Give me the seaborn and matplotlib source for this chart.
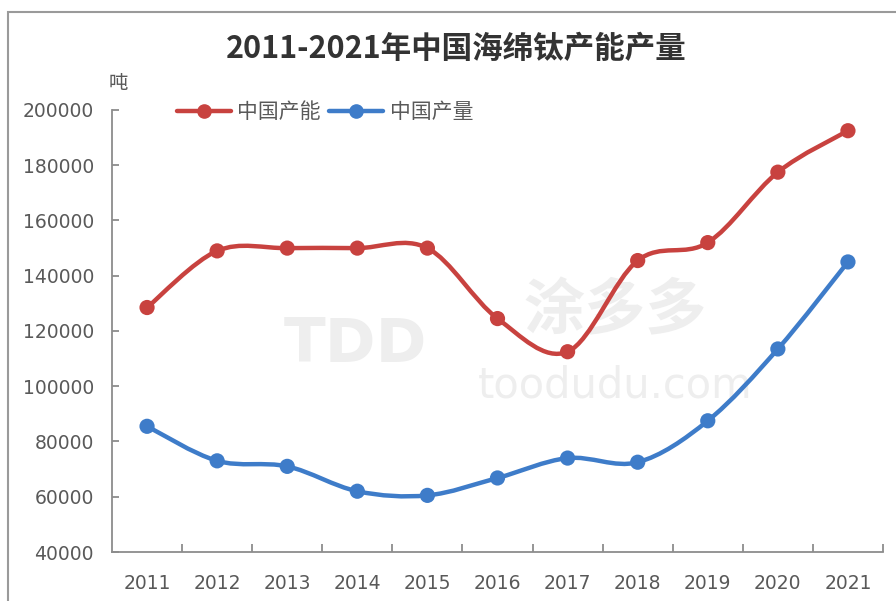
import numpy as np
import pandas as pd
import matplotlib
matplotlib.use("Agg")
import matplotlib.pyplot as plt
from matplotlib.path import Path
from matplotlib.patches import PathPatch, Rectangle
from matplotlib.lines import Line2D
import seaborn as sns

years = ["2011", "2012", "2013", "2014", "2015", "2016", "2017", "2018", "2019", "2020", "2021"]
capacity = [128500, 149000, 150000, 150000, 150000, 124500, 112500, 145500, 152000, 177500, 192500]
output = [85500, 73000, 71000, 62000, 60500, 66800, 74000, 72500, 87500, 113500, 145000]
y_ticks = [40000, 60000, 80000, 100000, 120000, 140000, 160000, 180000, 200000]

title = "2011-2021年中国海绵钛产能产量"
unit = "吨"
name_cap = "中国产能"
name_out = "中国产量"

red = "#C8423F"
blue = "#3E7CC9"
grey_txt = "#595959"

df = pd.DataFrame({"year": years, "idx": range(len(years)),
                   name_cap: capacity, name_out: output})
long = df.melt(id_vars=["year", "idx"], var_name="series", value_name="value")

sns.set_theme(style="white")
plt.rcParams["font.family"] = ["Noto Sans CJK SC", "DejaVu Sans"]

fig = plt.figure(figsize=(8.96, 6.01), dpi=100)
ax = fig.add_axes([112 / 896, 1 - 552 / 601, (883 - 112) / 896, (552 - 110) / 601])


def smooth_line(ax, xs, ys, color):
    # excel style smoothed line: cubic bezier through every point
    pts = np.column_stack([xs, ys]).astype(float)
    n = len(pts)
    verts = [pts[0]]
    codes = [Path.MOVETO]
    for i in range(n - 1):
        p0 = pts[max(i - 1, 0)]
        p1 = pts[i]
        p2 = pts[i + 1]
        p3 = pts[min(i + 2, n - 1)]
        verts += [p1 + (p2 - p0) / 6, p2 - (p3 - p1) / 6, p2]
        codes += [Path.CURVE4] * 3
    patch = PathPatch(Path(verts, codes), facecolor="none", edgecolor=color,
                      lw=3.2, capstyle="round", joinstyle="round", zorder=3)
    ax.add_patch(patch)


smooth_line(ax, df["idx"], df[name_cap], red)
smooth_line(ax, df["idx"], df[name_out], blue)

sns.scatterplot(data=long, x="idx", y="value", hue="series",
                palette={name_cap: red, name_out: blue},
                s=120, edgecolor="none", legend=False, zorder=4, ax=ax)

ax.set_xlim(-0.5, len(years) - 0.5)
ax.set_ylim(40000, 200000)
ax.set_yticks(y_ticks)
ax.set_yticklabels([str(v) for v in y_ticks])
ax.set_xticks(range(len(years)))
ax.set_xticklabels(years)
ax.set_xticks(np.arange(0.5, len(years)), minor=True)
ax.set_xlabel("")
ax.set_ylabel("")

for s in ["top", "right"]:
    ax.spines[s].set_visible(False)
for s in ["left", "bottom"]:
    ax.spines[s].set_color("#8C8C8C")
    ax.spines[s].set_linewidth(1.3)

ax.tick_params(axis="x", which="major", length=0, pad=16,
               labelsize=13.5, labelcolor=grey_txt)
ax.tick_params(axis="x", which="minor", direction="in", length=6,
               width=1.3, color="#8C8C8C", bottom=True)
ax.tick_params(axis="y", direction="in", length=5, width=1.3, color="#8C8C8C",
               left=True, pad=13, labelsize=13.5, labelcolor=grey_txt)
for lab in ax.get_xticklabels() + ax.get_yticklabels():
    lab.set_family("DejaVu Sans")

# faint watermark
wm = "#EEEEEE"
fig.text(355 / 896, 1 - 345 / 601, "TDD", fontsize=44, fontweight="bold",
         color=wm, ha="center", va="center", family="DejaVu Sans", zorder=0)
fig.text(615 / 896, 1 - 312 / 601, "涂多多", fontsize=44, fontweight="bold",
         color=wm, ha="center", va="center", zorder=0)
fig.text(615 / 896, 1 - 385 / 601, "toodudu.com", fontsize=30,
         color=wm, ha="center", va="center", family="DejaVu Sans", zorder=0)
ax.set_zorder(2)
ax.patch.set_alpha(0)

fig.text(456 / 896, 1 - 49 / 601, title, fontsize=22, fontweight="bold",
         color="#333333", ha="center", va="center")
fig.text(118 / 896, 1 - 84 / 601, unit, fontsize=14, color=grey_txt,
         ha="center", va="center")

handles = [Line2D([], [], color=red, lw=3.2, marker="o", markersize=9.5),
           Line2D([], [], color=blue, lw=3.2, marker="o", markersize=9.5)]
fig.legend(handles, [name_cap, name_out], loc="center left",
           bbox_to_anchor=(177 / 896, 1 - 112 / 601), ncol=2, frameon=False,
           fontsize=15, labelcolor=grey_txt, handlelength=2.6,
           handletextpad=0.3, columnspacing=0.4, borderpad=0, borderaxespad=0)

# outer chart border
fig.patches.append(Rectangle((8 / 896, -0.05), 1.0, 1 - 12 / 601 + 0.05,
                             transform=fig.transFigure, fill=False,
                             edgecolor="#9A9A9A", lw=1.5))

fig.savefig("out.png", dpi=100)
